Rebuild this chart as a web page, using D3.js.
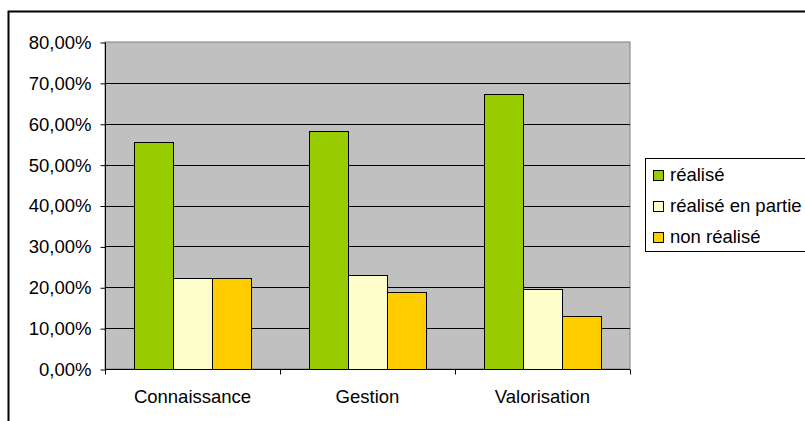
<!DOCTYPE html>
<html><head><meta charset="utf-8">
<script src="https://cdn.jsdelivr.net/npm/d3@7"></script>
<style>body{margin:0;background:#fff}svg{display:block}text{font-family:"Liberation Sans",Arial,sans-serif}</style>
</head><body>
<svg id="c" width="805" height="421"></svg>
<script>
const categories = ["Connaissance", "Gestion", "Valorisation"];
const seriesNames = ["réalisé", "réalisé en partie", "non réalisé"];
const realise = [0.556, 0.583, 0.674];
const realisePartie = [0.222, 0.229, 0.196];
const nonRealise = [0.222, 0.188, 0.130];
const yTicks = [0, 0.1, 0.2, 0.3, 0.4, 0.5, 0.6, 0.7, 0.8];
const colors = ["#99CC00", "#FFFFCC", "#FFCC00"];

const series = [realise, realisePartie, nonRealise];
const svg = d3.select("#c");
const L = 105, R = 630, T = 42, B = 369;
const FS = 18.5;

svg.append("rect").attr("x", 8.5).attr("y", 11.5).attr("width", 820).attr("height", 430)
  .attr("fill", "#fff").attr("stroke", "#000").attr("stroke-width", 2);

const x0 = d3.scaleBand().domain(categories).range([L, R]).paddingInner(0).paddingOuter(0);
const x1 = d3.scaleBand().domain(d3.range(3)).range([0, x0.bandwidth()]).paddingOuter(0.75).paddingInner(0);
const y = d3.scaleLinear().domain([0, 0.8]).range([B, T]);

svg.append("rect").attr("x", L).attr("y", T).attr("width", R - L).attr("height", B - T)
  .attr("fill", "#C0C0C0").attr("stroke", "#808080").attr("stroke-width", 1);

svg.append("g").selectAll("line").data(yTicks.filter(v => v > 0 && v < 0.8)).join("line")
  .attr("x1", L).attr("x2", R).attr("y1", d => Math.round(y(d)) + 0.5).attr("y2", d => Math.round(y(d)) + 0.5)
  .attr("stroke", "#000");

const g = svg.append("g");
categories.forEach((c, ci) => {
  series.forEach((s, si) => {
    g.append("rect")
      .attr("x", Math.round(x0(c) + x1(si)) + 0.5)
      .attr("y", Math.round(y(s[ci])) + 0.5)
      .attr("width", Math.round(x1.bandwidth()))
      .attr("height", Math.round(y(0)) - Math.round(y(s[ci])))
      .attr("fill", colors[si]).attr("stroke", "#000").attr("stroke-width", 1);
  });
});

const fmt = v => (v * 100).toFixed(2).replace(".", ",") + "%";
const yAxis = d3.axisLeft(y).tickValues(yTicks).tickFormat(fmt).tickSize(5).tickPadding(9);
const ya = svg.append("g").attr("transform", `translate(${L + 0.5},0.5)`).call(yAxis);
ya.select(".domain").attr("stroke", "#000").attr("d", `M0,${T}V${B}`);
ya.selectAll(".tick line").attr("stroke", "#000");
ya.selectAll("text").attr("font-size", FS).attr("fill", "#000").attr("font-family", "Liberation Sans, Arial, sans-serif");

const xa = svg.append("g").attr("transform", `translate(0,${B + 0.5})`);
xa.append("line").attr("x1", L).attr("x2", R).attr("stroke", "#000");
xa.selectAll("line.t").data(d3.range(4)).join("line").attr("class", "t")
  .attr("x1", i => L + i * x0.step() + 0.5).attr("x2", i => L + i * x0.step() + 0.5)
  .attr("y1", 0).attr("y2", 5).attr("stroke", "#000");
xa.selectAll("text").data(categories).join("text")
  .attr("x", d => x0(d) + x0.bandwidth() / 2).attr("y", 33)
  .attr("text-anchor", "middle").attr("font-size", FS).attr("fill", "#000").text(d => d);

const lg = svg.append("g");
lg.append("rect").attr("x", 645.5).attr("y", 158.5).attr("width", 200).attr("height", 93)
  .attr("fill", "#fff").attr("stroke", "#000");
seriesNames.forEach((n, i) => {
  const cy = 175.5 + i * 31;
  lg.append("rect").attr("x", 653.5).attr("y", cy - 5).attr("width", 10).attr("height", 10)
    .attr("fill", colors[i]).attr("stroke", "#000");
  lg.append("text").attr("x", 670).attr("y", cy + 5.5).attr("font-size", FS).attr("fill", "#000").text(n);
});
</script>
</body></html>
